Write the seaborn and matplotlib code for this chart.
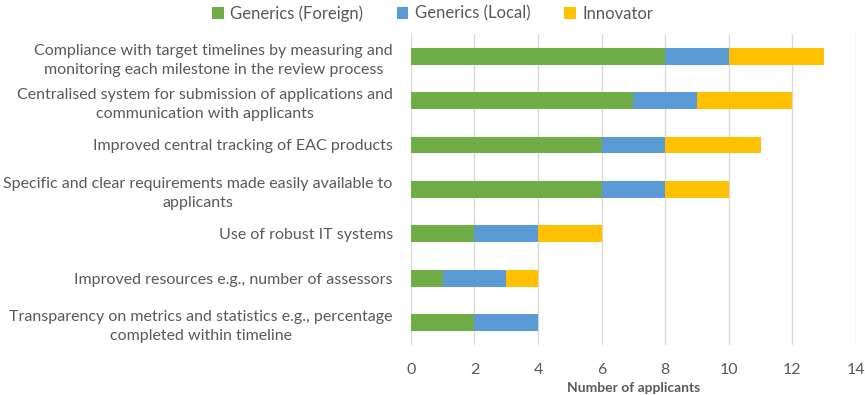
import matplotlib
matplotlib.use("Agg")
import matplotlib.pyplot as plt
import seaborn as sns
import pandas as pd
import numpy as np
from matplotlib.patches import Patch

categories = [
    "Compliance with target timelines by measuring and\nmonitoring each milestone in the review process",
    "Centralised system for submission of applications and\ncommunication with applicants",
    "Improved central tracking of EAC products",
    "Specific and clear requirements made easily available to\napplicants",
    "Use of robust IT systems",
    "Improved resources e.g., number of assessors",
    "Transparency on metrics and statistics e.g., percentage\ncompleted within timeline",
]
generics_foreign = [8, 7, 6, 6, 2, 1, 2]
generics_local = [2, 2, 2, 2, 2, 2, 2]
innovator = [3, 3, 3, 2, 2, 1, 0]
series_names = ["Generics (Foreign)", "Generics (Local)", "Innovator"]
colors = ["#70AD47", "#5B9BD5", "#FFC000"]
xticks = [0, 2, 4, 6, 8, 10, 12, 14]

sns.set_theme(style="white")
plt.rcParams['font.family'] = ['Lato', 'DejaVu Sans']
text_color = "#595959"

df = pd.DataFrame({
    "cat": categories,
    "foreign": generics_foreign,
    "local": generics_local,
    "innov": innovator,
})
df["c1"] = df["foreign"]
df["c2"] = df["foreign"] + df["local"]
df["c3"] = df["c2"] + df["innov"]

fig = plt.figure(figsize=(8.65, 3.95), dpi=100)
ax = fig.add_axes([0.475, 0.127, 0.5145, 0.787])

for col, color in zip(["c3", "c2", "c1"], colors[::-1]):
    sns.barplot(data=df, x=col, y="cat", color=color, width=0.38,
                saturation=1, ax=ax, orient="h", linewidth=0, zorder=3)

ax.set_xlim(0, 14)
ax.set_xticks(xticks)
ax.set_xticklabels([str(t) for t in xticks], fontsize=11.5, color=text_color)
ax.grid(axis="x", color="#D9D9D9", linewidth=1, zorder=0)
ax.set_axisbelow(True)
for s in ax.spines.values():
    s.set_visible(False)
ax.tick_params(axis="both", length=0)
ax.tick_params(axis="y", pad=13)
ax.tick_params(axis="x", pad=13)
ax.set_ylabel("")
ax.set_xlabel("Number of applicants", fontsize=10, fontweight="bold", color=text_color, labelpad=4)
for lbl in ax.get_yticklabels():
    lbl.set_multialignment("center")
    lbl.set_fontsize(11.5)
    lbl.set_color(text_color)
    lbl.set_linespacing(1.45)

handles = [Patch(facecolor=c, edgecolor="none") for c in colors]
fig.legend(handles, series_names, loc="upper center", bbox_to_anchor=(0.5, 1.025), ncol=3,
           frameon=False, fontsize=12, handlelength=0.7, handleheight=0.7,
           columnspacing=2.0, handletextpad=0.4, labelcolor=text_color)

fig.savefig("out.png", dpi=100)
